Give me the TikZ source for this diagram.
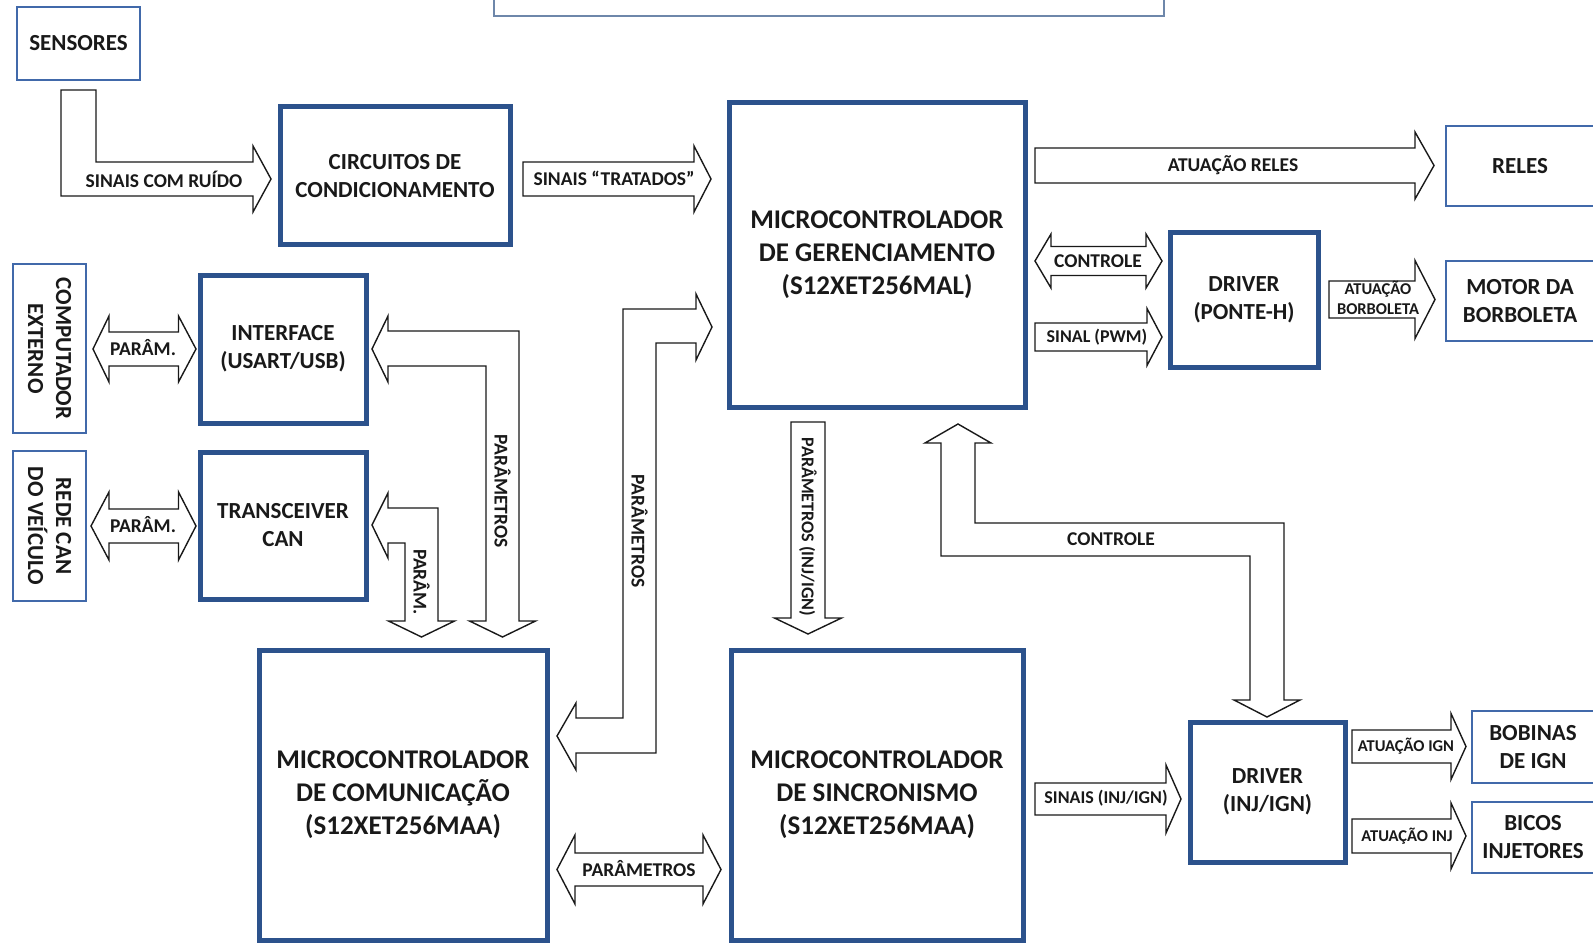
\documentclass[tikz,border=0pt]{standalone}
\usepackage{fontspec}
\setmainfont{Carlito}
\definecolor{thickblue}{RGB}{44,82,140}
\definecolor{thinblue}{RGB}{65,105,170}
\definecolor{titleblue}{RGB}{110,135,170}
\newcommand\FntBig{\fontsize{27}{33}\selectfont\bfseries}
\newcommand\FntMed{\fontsize{23}{28}\selectfont\bfseries}
\newcommand\FntLab{\fontsize{19.5}{23}\selectfont\bfseries}
\newcommand\FntSml{\fontsize{18}{21}\selectfont\bfseries}
\newcommand\FntTny{\fontsize{16.5}{20}\selectfont\bfseries}
% right block arrow: x start, x head base, x tip, y centre, shaft half, head half
\newcommand\ArrR[6]{\draw[blk] (#1,{#4-#5}) -- (#2,{#4-#5}) -- (#2,{#4-#6}) -- (#3,#4) -- (#2,{#4+#6}) -- (#2,{#4+#5}) -- (#1,{#4+#5}) -- cycle;}
% double block arrow: left tip, left base, right base, right tip, y centre, shaft half, head half
\newcommand\ArrD[7]{\draw[blk] (#1,#5) -- (#2,{#5-#7}) -- (#2,{#5-#6}) -- (#3,{#5-#6}) -- (#3,{#5-#7}) -- (#4,#5) -- (#3,{#5+#7}) -- (#3,{#5+#6}) -- (#2,{#5+#6}) -- (#2,{#5+#7}) -- cycle;}
% down block arrow: x centre, y top, y head base, y tip, shaft half, head half
\newcommand\ArrV[6]{\draw[blk] ({#1-#5},#2) -- ({#1+#5},#2) -- ({#1+#5},#3) -- ({#1+#6},#3) -- (#1,#4) -- ({#1-#6},#3) -- ({#1-#5},#3) -- cycle;}
\begin{document}
\begin{tikzpicture}[x=1pt,y=-1pt,
  thk/.style={draw=thickblue, line width=5pt, fill=white, inner sep=0pt, align=center, font=\FntMed, text=black!90},
  thn/.style={draw=thinblue, line width=2pt, fill=white, inner sep=0pt, align=center, font=\FntMed, text=black!90},
  blk/.style={draw=black!90, line width=1.4pt, fill=white, line join=miter},
  lab/.style={inner sep=0pt, align=center, font=\FntLab, text=black!90}]
\useasboundingbox (0,0) rectangle (1593,944);
\clip (0,0) rectangle (1593,944);
% title box (cut at the top)
\node[draw=titleblue, line width=2pt, minimum width=670, minimum height=40, inner sep=0pt] (tit) at (829,-3.5) {};
% boxes
\node[thn, minimum width=123, minimum height=73] (sens) at (78.5,43.5) {SENSORES};
\node[thk, minimum width=230, minimum height=138] (circ) at (395,176) {CIRCUITOS DE\\CONDICIONAMENTO};
\node[thk, minimum width=296, minimum height=304, font=\FntBig] (ger) at (877,255) {MICROCONTROLADOR\\DE GERENCIAMENTO\\(S12XET256MAL)};
\node[thn, minimum width=148, minimum height=80] (rel) at (1520,166) {RELES};
\node[thk, minimum width=148, minimum height=134] (drvh) at (1244,300) {DRIVER\\(PONTE-H)};
\node[thn, minimum width=148, minimum height=80] (mot) at (1520,301) {MOTOR DA\\BORBOLETA};
\node[thn, rotate=-90, minimum width=169, minimum height=73] (comp) at (49.5,348.5) {COMPUTADOR\\EXTERNO};
\node[thn, rotate=-90, minimum width=150, minimum height=73] (can) at (49.5,526) {REDE CAN\\DO VEÍCULO};
\node[thk, minimum width=166, minimum height=148] (intf) at (283,349) {INTERFACE\\(USART/USB)};
\node[thk, minimum width=166, minimum height=147] (trx) at (283,525.5) {TRANSCEIVER\\CAN};
\node[thk, minimum width=288, minimum height=290, font=\FntBig] (com) at (403,795) {MICROCONTROLADOR\\DE COMUNICAÇÃO\\(S12XET256MAA)};
\node[thk, minimum width=292, minimum height=290, font=\FntBig] (sinc) at (877,795) {MICROCONTROLADOR\\DE SINCRONISMO\\(S12XET256MAA)};
\node[thk, minimum width=155, minimum height=140] (drvi) at (1267.5,792) {DRIVER\\(INJ/IGN)};
\node[thn, minimum width=122, minimum height=72] (bob) at (1533,747) {BOBINAS\\DE IGN};
\node[thn, minimum width=122, minimum height=71] (bic) at (1533,837.5) {BICOS\\INJETORES};
% block arrows
\draw[blk] (61,90) -- (96,90) -- (96,162) -- (253,162) -- (253,146) -- (271,179) -- (253,212) -- (253,196) -- (61,196) -- cycle;
\node[lab] (l1) at (164,179) {SINAIS COM RUÍDO};
\ArrR{523}{694}{711}{179}{17}{33}
\node[lab] (l2) at (614,178) {SINAIS “TRATADOS”};
\ArrR{1035}{1415}{1434}{165.5}{17.5}{33.5}
\node[lab] (l3) at (1233,165) {ATUAÇÃO RELES};
\ArrD{1035}{1051}{1146}{1162}{261}{14.5}{27}
\node[lab] (l4) at (1098,261) {CONTROLE};
\ArrR{1035}{1147}{1162}{337}{14}{28.5}
\node[lab, font=\FntSml] (l5) at (1097,337) {SINAL (PWM)};
\ArrR{1329}{1415}{1435}{299.5}{18.5}{39}
\node[lab, font=\FntTny] (l6) at (1378,298) {ATUAÇÃO\\BORBOLETA};
\ArrD{93}{109}{178.5}{196}{349}{17}{33}
\node[lab] (l7) at (143,348) {PARÂM.};
\ArrD{91}{109}{178.5}{196}{526}{17}{34}
\node[lab] (l8) at (143,525) {PARÂM.};
% interface <-> comunicacao
\draw[blk] (372,349) -- (388,316) -- (388,331) -- (519,331) -- (519,621) -- (535.5,621) -- (502.5,637) -- (469.5,621) -- (486,621) -- (486,366) -- (388,366) -- (388,382) -- cycle;
\node[lab, rotate=-90] (l9) at (502.5,491) {PARÂMETROS};
% transceiver <-> comunicacao
\draw[blk] (372,525) -- (388,493) -- (388,508) -- (438,508) -- (438,621) -- (454.5,621) -- (421.5,637) -- (388.5,621) -- (405,621) -- (405,543) -- (388,543) -- (388,558) -- cycle;
\node[lab, rotate=-90] (l10) at (421.5,582) {PARÂM.};
% comunicacao <-> gerenciamento
\draw[blk] (712,327) -- (696,294) -- (696,309) -- (623,309) -- (623,718) -- (576,718) -- (576,703) -- (557,736) -- (576,770) -- (576,753) -- (656,753) -- (656,343) -- (696,343) -- (696,360) -- cycle;
\node[lab, rotate=-90] (l11) at (639.5,531) {PARÂMETROS};
% gerenciamento -> sincronismo
\ArrV{808}{422}{618}{634}{17}{33.5}
\node[lab, rotate=-90, font=\FntSml] (l12) at (808,527) {PARÂMETROS (INJ/IGN)};
% controle: gerenciamento <-> driver inj/ign
\draw[blk] (958,424) -- (991,443) -- (975,443) -- (975,523) -- (1284,523) -- (1284,700) -- (1300,700) -- (1267,717) -- (1234,700) -- (1250,700) -- (1250,556) -- (941,556) -- (941,443) -- (925,443) -- cycle;
\node[lab] (l13) at (1111,539) {CONTROLE};
% comunicacao <-> sincronismo
\ArrD{557}{575}{703}{721}{869.5}{16.5}{34.5}
\node[lab] (l14) at (639,869) {PARÂMETROS};
\ArrR{1035}{1166}{1181}{799}{16}{34}
\node[lab, font=\FntSml] (l15) at (1106,798) {SINAIS (INJ/IGN)};
\ArrR{1352}{1451}{1466}{746.5}{16.5}{33}
\node[lab, font=\FntTny] (l16) at (1406,746) {ATUAÇÃO IGN};
\ArrR{1352}{1451}{1466}{836}{17}{33}
\node[lab, font=\FntTny] (l17) at (1407,836) {ATUAÇÃO INJ};
\end{tikzpicture}
\end{document}
